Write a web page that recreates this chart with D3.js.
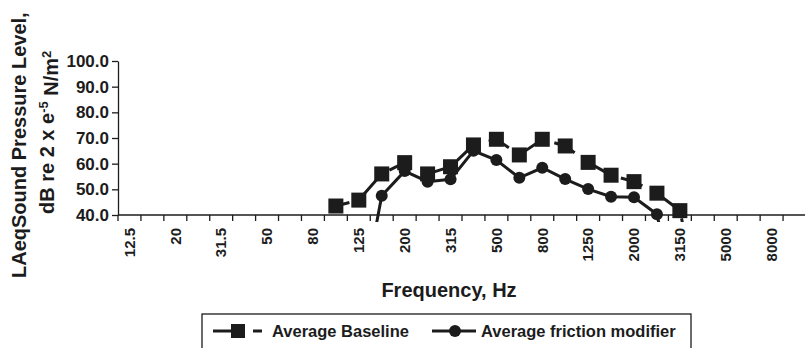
<!DOCTYPE html>
<html>
<head>
<meta charset="utf-8">
<script src="https://cdn.jsdelivr.net/npm/d3@7"></script>
<style>
  body { margin: 0; background: #fff; }
  svg { display: block; font-family: "Liberation Sans", Arial, sans-serif; font-weight: bold; }
</style>
</head>
<body>
<svg id="chart" width="805" height="348"></svg>
<script>

// one-third octave bands, Hz
var categories = ["12.5","16","20","25","31.5","40","50","63","80","100","125","160","200","250",
                  "315","400","500","630","800","1000","1250","1600","2000","2500","3150","4000",
                  "5000","6300","8000","10000"]

// every other band gets a label
var tickLabels = ["12.5","20","31.5","50","80","125","200","315","500","800","1250","2000","3150","5000","8000"]

var baseline = [null,null,null,null,null,null,null,null,null,
                43.5,45.8,56.0,60.4,56.0,58.8,67.3,69.5,63.4,69.5,66.9,60.5,55.5,53.0,48.5,41.7,
                0,null,null,null,null]

var friction = [null,null,null,null,null,null,null,null,null,null,
                0,47.5,57.1,53.0,53.9,65.0,61.4,54.5,58.4,54.0,50.1,47.1,46.9,40.3,
                0,null,null,null,null,null]

var yTicks = [40,50,60,70,80,90,100]

var ink = '#1c1c1c'
var svg = d3.select('#chart')

var plotLeft = 118, plotRight = 806, plotTop = 61, plotBottom = 215

var x = d3.scaleBand().domain(categories).range([plotLeft, plotRight]).paddingInner(0).paddingOuter(0)
var y = d3.scaleLinear().domain([40, 100]).range([plotBottom, plotTop])

// clip lets the lines run a little below the axis, like the original
svg.append('defs').append('clipPath').attr('id', 'plotClip')
  .append('rect')
    .attr('x', plotLeft)
    .attr('y', 0)
    .attr('width', plotRight - plotLeft)
    .attr('height', plotBottom + 7)

// y axis
var yAxis = svg.append('g')
    .attr('transform', 'translate(' + plotLeft + ',0)')
    .call(d3.axisLeft(y).tickValues(yTicks).tickFormat(d3.format('.1f')).tickSize(6).tickSizeOuter(0).tickPadding(3))
yAxis.select('.domain').attr('stroke', ink).attr('stroke-width', 1.3)
yAxis.selectAll('.tick line').attr('stroke', ink).attr('stroke-width', 1.3)
yAxis.selectAll('.tick text')
    .attr('fill', ink)
    .style('font-size', '17px')
    .style('font-family', '"Liberation Sans", Arial, sans-serif')
    .style('font-weight', 'bold')

// x axis: ticks sit between bands
var xAxis = svg.append('g').attr('transform', 'translate(0,' + plotBottom + ')')
xAxis.append('line')
    .attr('x1', plotLeft).attr('x2', plotRight)
    .attr('stroke', ink).attr('stroke-width', 1.3)
xAxis.selectAll('line.tk')
  .data(categories)
  .enter().append('line')
    .attr('class', 'tk')
    .attr('x1', function(d){ return x(d) })
    .attr('x2', function(d){ return x(d) })
    .attr('y1', 0).attr('y2', 6)
    .attr('stroke', ink).attr('stroke-width', 1.3)
xAxis.selectAll('text')
  .data(tickLabels)
  .enter().append('text')
    .attr('transform', function(d){
        return 'translate(' + (x(d) + x.bandwidth()/2) + ',13) rotate(-90)'
    })
    .attr('text-anchor', 'end')
    .attr('dy', '0.35em')
    .attr('fill', ink)
    .style('font-size', '15px')
    .text(function(d){ return d })

// axis titles
svg.append('text')
    .attr('x', 449)
    .attr('y', 297)
    .attr('text-anchor', 'middle')
    .attr('fill', ink)
    .style('font-size', '20px')
    .text('Frequency, Hz')

svg.append('text')
    .attr('transform', 'translate(26,278) rotate(-90)')
    .attr('fill', ink)
    .style('font-size', '20px')
    .text('LAeqSound Pressure Level,')

var yTitle2 = svg.append('text')
    .attr('transform', 'translate(54,214) rotate(-90)')
    .attr('fill', ink)
    .style('font-size', '20px')
yTitle2.append('tspan').text('dB re 2 x e')
yTitle2.append('tspan').attr('dy', '-0.5em').style('font-size', '13px').text('-5')
yTitle2.append('tspan').attr('dy', '0.5em').text(' N/m')
yTitle2.append('tspan').attr('dy', '-0.5em').style('font-size', '13px').text('2')

// series
var plot = svg.append('g').attr('clip-path', 'url(#plotClip)')

function cx(i){ return x(categories[i]) + x.bandwidth()/2 }

var line = d3.line()
    .defined(function(d){ return d != null })
    .x(function(d, i){ return cx(i) })
    .y(function(d){ return y(d) })

plot.append('path')
    .datum(friction)
    .attr('d', line)
    .attr('fill', 'none')
    .attr('stroke', ink)
    .attr('stroke-width', 3)

// long-dash baseline, phase picked so the gaps fall where the original's do
plot.append('path')
    .datum(baseline)
    .attr('d', line)
    .attr('fill', 'none')
    .attr('stroke', ink)
    .attr('stroke-width', 3)
    .attr('stroke-dasharray', '23,15')
    .attr('stroke-dashoffset', 9)

var sq = 15
plot.selectAll('rect.base')
  .data(baseline.map(function(v, i){ return {v: v, i: i} }).filter(function(d){ return d.v != null }))
  .enter().append('rect')
    .attr('class', 'base')
    .attr('x', function(d){ return cx(d.i) - sq/2 })
    .attr('y', function(d){ return y(d.v) - sq/2 })
    .attr('width', sq).attr('height', sq)
    .attr('fill', ink)

plot.selectAll('circle.fric')
  .data(friction.map(function(v, i){ return {v: v, i: i} }).filter(function(d){ return d.v != null }))
  .enter().append('circle')
    .attr('class', 'fric')
    .attr('cx', function(d){ return cx(d.i) })
    .attr('cy', function(d){ return y(d.v) })
    .attr('r', 6)
    .attr('fill', ink)

// legend
var legend = svg.append('g')
legend.append('rect')
    .attr('x', 202).attr('y', 314)
    .attr('width', 489).attr('height', 60)
    .attr('fill', 'none')
    .attr('stroke', ink).attr('stroke-width', 1.3)

legend.append('line')
    .attr('x1', 213).attr('x2', 262).attr('y1', 331).attr('y2', 331)
    .attr('stroke', ink).attr('stroke-width', 3)
    .attr('stroke-dasharray', '32,8')
legend.append('rect')
    .attr('x', 231).attr('y', 324).attr('width', 14).attr('height', 14)
    .attr('fill', ink)
legend.append('text')
    .attr('x', 272).attr('y', 331).attr('dy', '0.35em')
    .attr('fill', ink)
    .style('font-size', '16.5px')
    .text('Average Baseline')

legend.append('line')
    .attr('x1', 432).attr('x2', 476).attr('y1', 331).attr('y2', 331)
    .attr('stroke', ink).attr('stroke-width', 3)
legend.append('circle')
    .attr('cx', 455).attr('cy', 331).attr('r', 6)
    .attr('fill', ink)
legend.append('text')
    .attr('x', 481).attr('y', 331).attr('dy', '0.35em')
    .attr('fill', ink)
    .style('font-size', '16.5px')
    .text('Average friction modifier')

</script>
</body>
</html>
